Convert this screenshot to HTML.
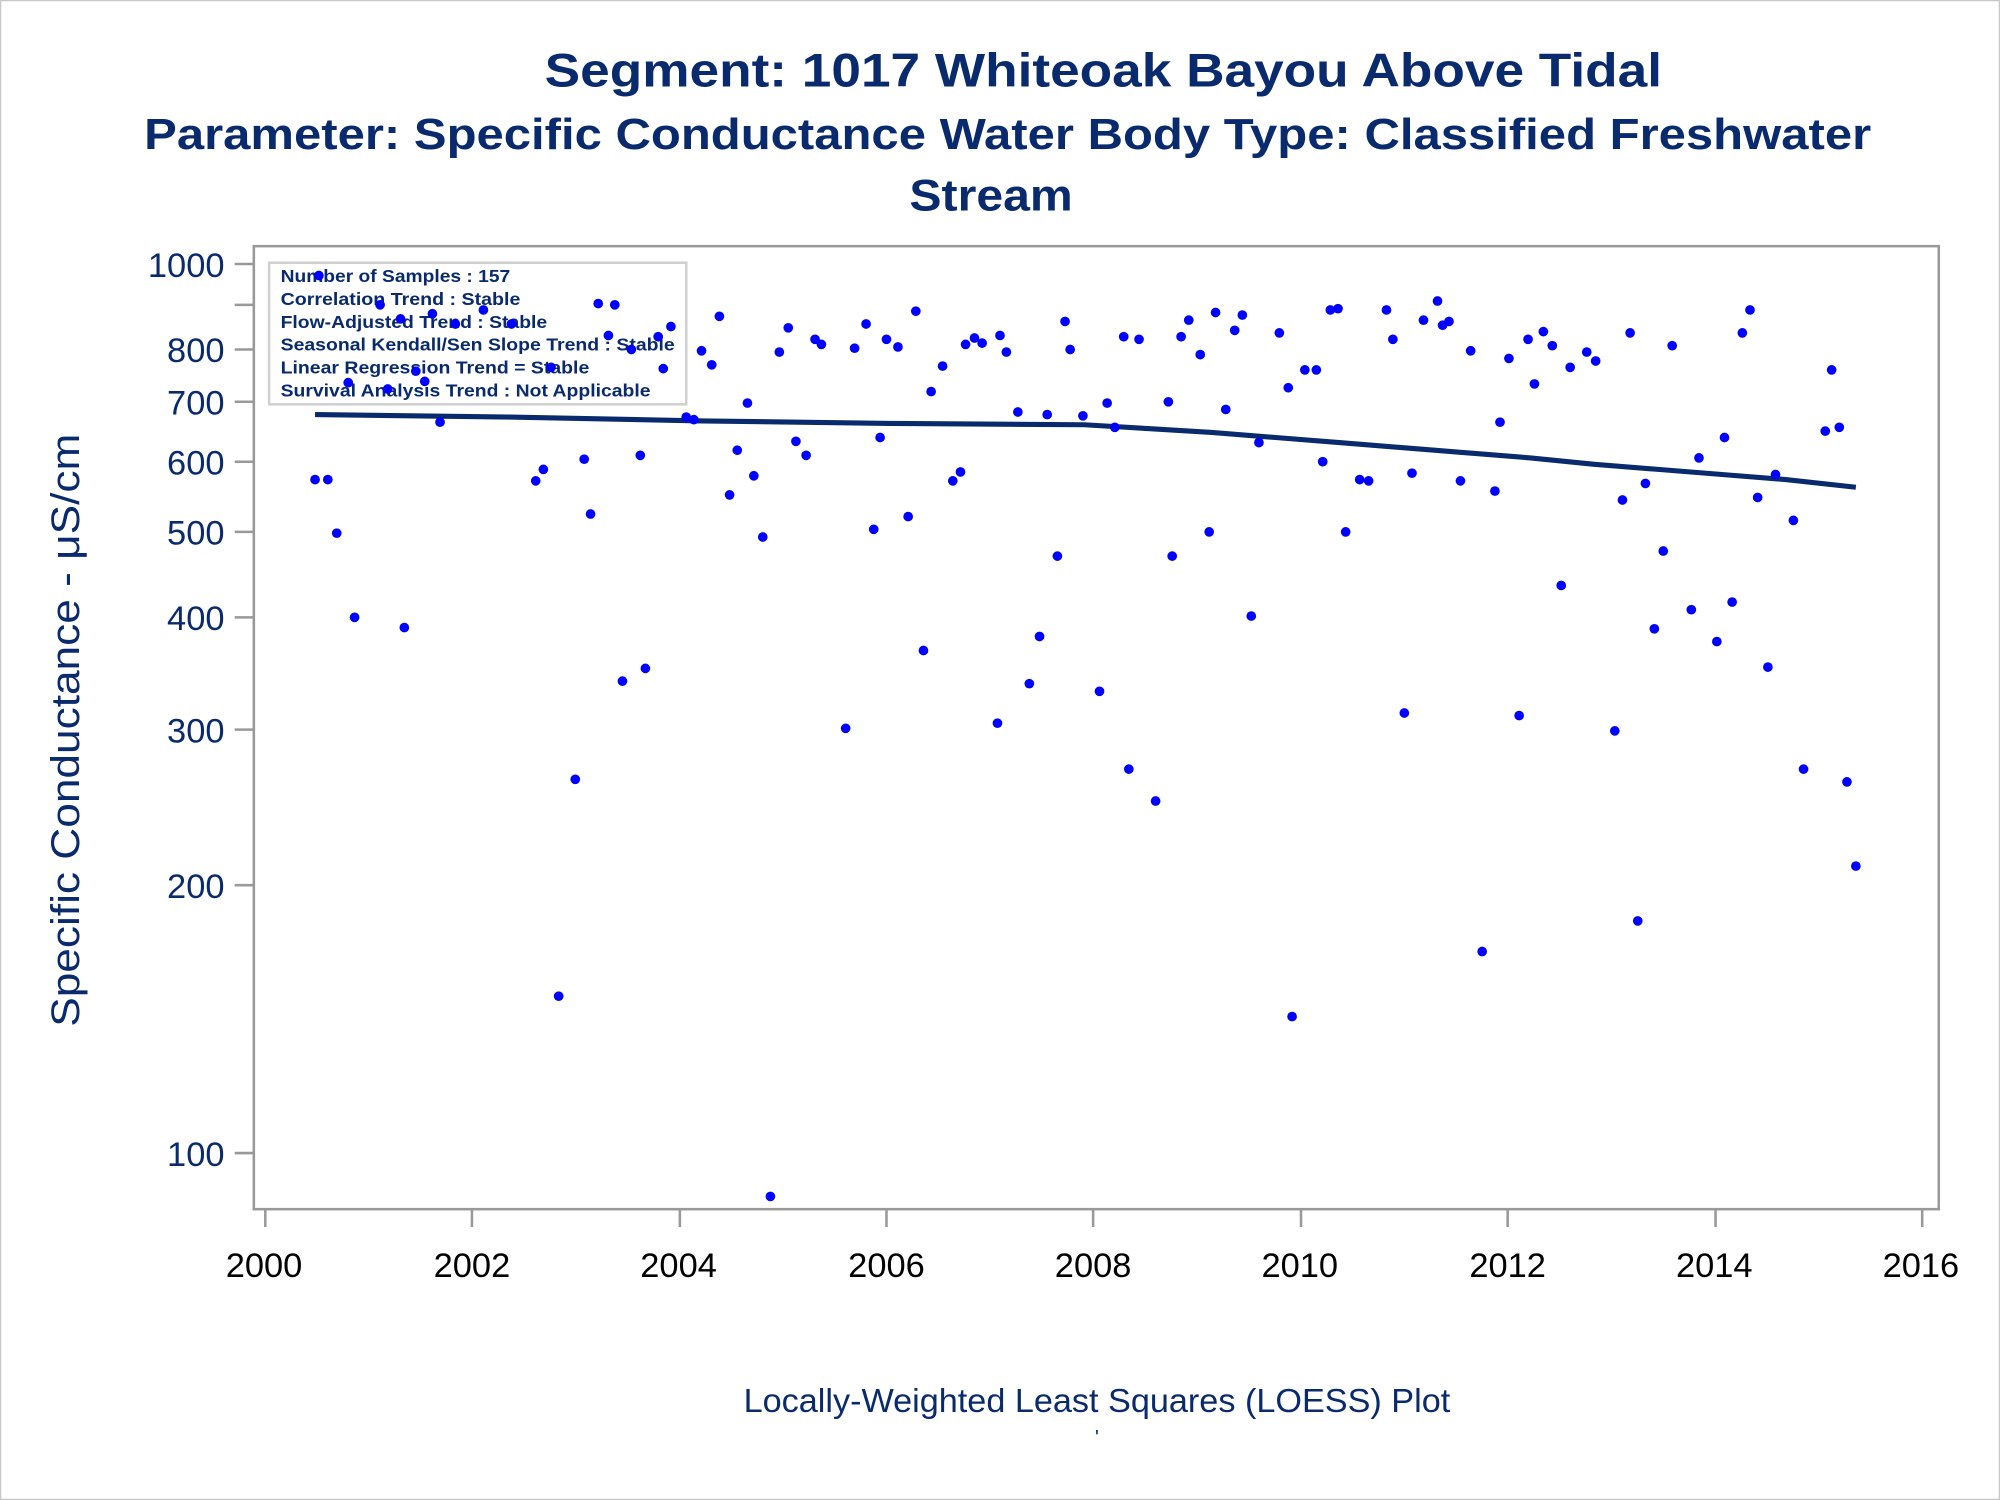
<!DOCTYPE html>
<html><head><meta charset="utf-8"><style>html,body{margin:0;padding:0;background:#fff}svg{display:block}</style></head>
<body>
<svg width="2000" height="1500" viewBox="0 0 1568 1176" xmlns="http://www.w3.org/2000/svg" font-family="Liberation Sans, Arial, sans-serif" xml:space="preserve">
<rect x="0.5" y="0.5" width="1567" height="1175" fill="#fff" stroke="#c8c8c8"/>
<g fill="#0a2a6e" font-weight="bold">
<text x="427" y="68" font-size="37" textLength="876" lengthAdjust="spacingAndGlyphs">Segment: 1017  Whiteoak Bayou Above Tidal</text>
<text x="113" y="117" font-size="34" textLength="1354" lengthAdjust="spacingAndGlyphs">Parameter: Specific Conductance   Water Body Type: Classified Freshwater</text>
<text x="713" y="165" font-size="35" textLength="128" lengthAdjust="spacingAndGlyphs">Stream</text>
</g>
<rect x="199" y="193" width="1321" height="755" fill="none" stroke="#999" stroke-width="2"/>
<g stroke="#999" stroke-width="2">
<line x1="184" y1="207" x2="199" y2="207"/><line x1="184" y1="239" x2="199" y2="239"/><line x1="184" y1="274" x2="199" y2="274"/><line x1="184" y1="315" x2="199" y2="315"/><line x1="184" y1="362" x2="199" y2="362"/><line x1="184" y1="417" x2="199" y2="417"/><line x1="184" y1="484" x2="199" y2="484"/><line x1="184" y1="572" x2="199" y2="572"/><line x1="184" y1="694" x2="199" y2="694"/><line x1="184" y1="904" x2="199" y2="904"/>
<line x1="208" y1="948" x2="208" y2="962"/><line x1="370" y1="948" x2="370" y2="962"/><line x1="533" y1="948" x2="533" y2="962"/><line x1="695" y1="948" x2="695" y2="962"/><line x1="857" y1="948" x2="857" y2="962"/><line x1="1020" y1="948" x2="1020" y2="962"/><line x1="1182" y1="948" x2="1182" y2="962"/><line x1="1345" y1="948" x2="1345" y2="962"/><line x1="1507" y1="948" x2="1507" y2="962"/>
</g>
<g fill="#0a2a6e" font-size="27" text-anchor="end">
<text x="176" y="217">1000</text><text x="176" y="284">800</text><text x="176" y="325">700</text><text x="176" y="372">600</text><text x="176" y="427">500</text><text x="176" y="494">400</text><text x="176" y="582">300</text><text x="176" y="704">200</text><text x="176" y="914">100</text>
</g>
<g fill="#000" font-size="27" text-anchor="middle">
<text x="207" y="1001">2000</text><text x="370" y="1001">2002</text><text x="532" y="1001">2004</text><text x="695" y="1001">2006</text><text x="857" y="1001">2008</text><text x="1019" y="1001">2010</text><text x="1182" y="1001">2012</text><text x="1344" y="1001">2014</text><text x="1506" y="1001">2016</text>
</g>
<text transform="translate(62,805) rotate(-90)" fill="#0a2a6e" font-size="31" textLength="465" lengthAdjust="spacingAndGlyphs">Specific Conductance -  μS/cm</text>
<text x="583" y="1107" fill="#0a2a6e" font-size="26" textLength="554" lengthAdjust="spacingAndGlyphs">Locally-Weighted Least Squares (LOESS) Plot</text>
<text x="860" y="1132" text-anchor="middle" fill="#0a2a6e" font-size="16">'</text>
<rect x="211" y="206" width="327" height="111" fill="none" stroke="#d0d0d0" stroke-width="2"/>
<g fill="#0a2a6e" font-size="14" font-weight="bold" lengthAdjust="spacingAndGlyphs">
<text x="220" y="221" textLength="180" lengthAdjust="spacingAndGlyphs">Number of Samples : 157</text>
<text x="220" y="239" textLength="188" lengthAdjust="spacingAndGlyphs">Correlation Trend : Stable</text>
<text x="220" y="257" textLength="209" lengthAdjust="spacingAndGlyphs">Flow-Adjusted Trend : Stable</text>
<text x="220" y="275" textLength="309" lengthAdjust="spacingAndGlyphs">Seasonal Kendall/Sen Slope Trend : Stable</text>
<text x="220" y="293" textLength="242" lengthAdjust="spacingAndGlyphs">Linear Regression Trend = Stable</text>
<text x="220" y="311" textLength="290" lengthAdjust="spacingAndGlyphs">Survival Analysis Trend : Not Applicable</text>
</g>
<polyline fill="none" stroke="#0a2a6e" stroke-width="4" points="247,325 400,327 550,330 700,332 850,333 900,336 950,339 1000,343 1050,347 1100,351 1150,355 1200,359 1250,364 1300,368 1350,372 1400,376 1455,382"/>
<g fill="#0000ff">
<circle cx="247" cy="376" r="3.8"/><circle cx="257" cy="376" r="3.8"/><circle cx="250" cy="216" r="3.8"/><circle cx="264" cy="418" r="3.8"/><circle cx="273" cy="300" r="3.8"/><circle cx="278" cy="484" r="3.8"/><circle cx="298" cy="239" r="3.8"/><circle cx="304" cy="305" r="3.8"/><circle cx="314" cy="250" r="3.8"/><circle cx="317" cy="492" r="3.8"/><circle cx="326" cy="291" r="3.8"/><circle cx="333" cy="299" r="3.8"/><circle cx="339" cy="246" r="3.8"/><circle cx="345" cy="331" r="3.8"/><circle cx="357" cy="254" r="3.8"/><circle cx="379" cy="243" r="3.8"/><circle cx="401" cy="254" r="3.8"/><circle cx="420" cy="377" r="3.8"/><circle cx="426" cy="368" r="3.8"/><circle cx="432" cy="288" r="3.8"/><circle cx="438" cy="781" r="3.8"/><circle cx="451" cy="611" r="3.8"/><circle cx="458" cy="360" r="3.8"/><circle cx="463" cy="403" r="3.8"/><circle cx="469" cy="238" r="3.8"/><circle cx="477" cy="263" r="3.8"/><circle cx="482" cy="239" r="3.8"/><circle cx="488" cy="534" r="3.8"/><circle cx="495" cy="274" r="3.8"/><circle cx="502" cy="357" r="3.8"/><circle cx="506" cy="524" r="3.8"/><circle cx="516" cy="264" r="3.8"/><circle cx="520" cy="289" r="3.8"/><circle cx="526" cy="256" r="3.8"/><circle cx="538" cy="327" r="3.8"/><circle cx="544" cy="329" r="3.8"/><circle cx="550" cy="275" r="3.8"/><circle cx="558" cy="286" r="3.8"/><circle cx="564" cy="248" r="3.8"/><circle cx="572" cy="388" r="3.8"/><circle cx="578" cy="353" r="3.8"/><circle cx="586" cy="316" r="3.8"/><circle cx="591" cy="373" r="3.8"/><circle cx="598" cy="421" r="3.8"/><circle cx="604" cy="938" r="3.8"/><circle cx="611" cy="276" r="3.8"/><circle cx="618" cy="257" r="3.8"/><circle cx="624" cy="346" r="3.8"/><circle cx="632" cy="357" r="3.8"/><circle cx="639" cy="266" r="3.8"/><circle cx="644" cy="270" r="3.8"/><circle cx="663" cy="571" r="3.8"/><circle cx="670" cy="273" r="3.8"/><circle cx="679" cy="254" r="3.8"/><circle cx="685" cy="415" r="3.8"/><circle cx="690" cy="343" r="3.8"/><circle cx="695" cy="266" r="3.8"/><circle cx="704" cy="272" r="3.8"/><circle cx="712" cy="405" r="3.8"/><circle cx="718" cy="244" r="3.8"/><circle cx="724" cy="510" r="3.8"/><circle cx="730" cy="307" r="3.8"/><circle cx="739" cy="287" r="3.8"/><circle cx="747" cy="377" r="3.8"/><circle cx="753" cy="370" r="3.8"/><circle cx="757" cy="270" r="3.8"/><circle cx="764" cy="265" r="3.8"/><circle cx="770" cy="269" r="3.8"/><circle cx="782" cy="567" r="3.8"/><circle cx="784" cy="263" r="3.8"/><circle cx="789" cy="276" r="3.8"/><circle cx="798" cy="323" r="3.8"/><circle cx="807" cy="536" r="3.8"/><circle cx="815" cy="499" r="3.8"/><circle cx="821" cy="325" r="3.8"/><circle cx="829" cy="436" r="3.8"/><circle cx="835" cy="252" r="3.8"/><circle cx="839" cy="274" r="3.8"/><circle cx="849" cy="326" r="3.8"/><circle cx="862" cy="542" r="3.8"/><circle cx="868" cy="316" r="3.8"/><circle cx="874" cy="335" r="3.8"/><circle cx="881" cy="264" r="3.8"/><circle cx="885" cy="603" r="3.8"/><circle cx="893" cy="266" r="3.8"/><circle cx="906" cy="628" r="3.8"/><circle cx="916" cy="315" r="3.8"/><circle cx="919" cy="436" r="3.8"/><circle cx="926" cy="264" r="3.8"/><circle cx="932" cy="251" r="3.8"/><circle cx="941" cy="278" r="3.8"/><circle cx="948" cy="417" r="3.8"/><circle cx="953" cy="245" r="3.8"/><circle cx="961" cy="321" r="3.8"/><circle cx="968" cy="259" r="3.8"/><circle cx="974" cy="247" r="3.8"/><circle cx="981" cy="483" r="3.8"/><circle cx="987" cy="347" r="3.8"/><circle cx="1003" cy="261" r="3.8"/><circle cx="1010" cy="304" r="3.8"/><circle cx="1013" cy="797" r="3.8"/><circle cx="1023" cy="290" r="3.8"/><circle cx="1032" cy="290" r="3.8"/><circle cx="1037" cy="362" r="3.8"/><circle cx="1043" cy="243" r="3.8"/><circle cx="1049" cy="242" r="3.8"/><circle cx="1055" cy="417" r="3.8"/><circle cx="1066" cy="376" r="3.8"/><circle cx="1073" cy="377" r="3.8"/><circle cx="1087" cy="243" r="3.8"/><circle cx="1092" cy="266" r="3.8"/><circle cx="1101" cy="559" r="3.8"/><circle cx="1107" cy="371" r="3.8"/><circle cx="1116" cy="251" r="3.8"/><circle cx="1127" cy="236" r="3.8"/><circle cx="1131" cy="255" r="3.8"/><circle cx="1136" cy="252" r="3.8"/><circle cx="1145" cy="377" r="3.8"/><circle cx="1153" cy="275" r="3.8"/><circle cx="1162" cy="746" r="3.8"/><circle cx="1172" cy="385" r="3.8"/><circle cx="1176" cy="331" r="3.8"/><circle cx="1183" cy="281" r="3.8"/><circle cx="1191" cy="561" r="3.8"/><circle cx="1198" cy="266" r="3.8"/><circle cx="1203" cy="301" r="3.8"/><circle cx="1210" cy="260" r="3.8"/><circle cx="1217" cy="271" r="3.8"/><circle cx="1224" cy="459" r="3.8"/><circle cx="1231" cy="288" r="3.8"/><circle cx="1244" cy="276" r="3.8"/><circle cx="1251" cy="283" r="3.8"/><circle cx="1266" cy="573" r="3.8"/><circle cx="1272" cy="392" r="3.8"/><circle cx="1278" cy="261" r="3.8"/><circle cx="1284" cy="722" r="3.8"/><circle cx="1290" cy="379" r="3.8"/><circle cx="1297" cy="493" r="3.8"/><circle cx="1304" cy="432" r="3.8"/><circle cx="1311" cy="271" r="3.8"/><circle cx="1326" cy="478" r="3.8"/><circle cx="1332" cy="359" r="3.8"/><circle cx="1346" cy="503" r="3.8"/><circle cx="1352" cy="343" r="3.8"/><circle cx="1358" cy="472" r="3.8"/><circle cx="1366" cy="261" r="3.8"/><circle cx="1372" cy="243" r="3.8"/><circle cx="1378" cy="390" r="3.8"/><circle cx="1386" cy="523" r="3.8"/><circle cx="1392" cy="372" r="3.8"/><circle cx="1406" cy="408" r="3.8"/><circle cx="1414" cy="603" r="3.8"/><circle cx="1431" cy="338" r="3.8"/><circle cx="1436" cy="290" r="3.8"/><circle cx="1442" cy="335" r="3.8"/><circle cx="1448" cy="613" r="3.8"/><circle cx="1455" cy="679" r="3.8"/>
</g>
</svg>
</body></html>
